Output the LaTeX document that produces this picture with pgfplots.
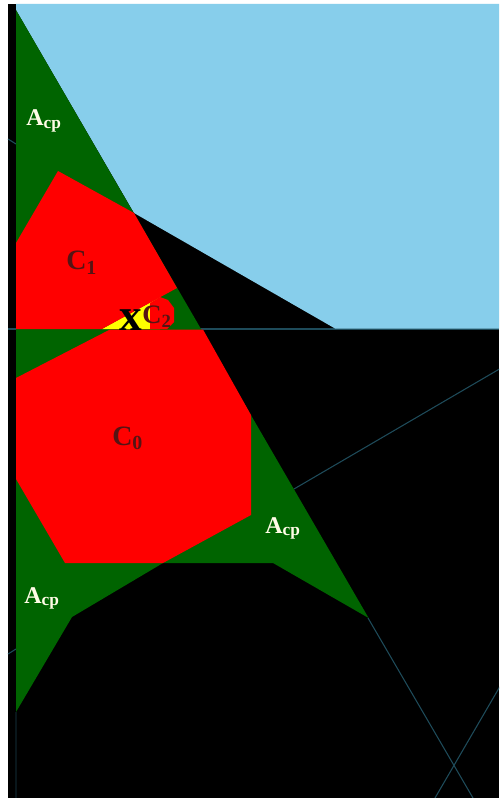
\documentclass[border=0pt]{standalone}
\usepackage{pgfplots}
\pgfplotsset{compat=1.18}
\usepackage{fontspec}
\setmainfont{Liberation Serif}
\definecolor{sky}{RGB}{135,206,235}
\definecolor{dgreen}{RGB}{0,100,0}
\definecolor{rred}{RGB}{255,0,0}
\definecolor{yel}{RGB}{255,255,0}
\definecolor{lnc}{RGB}{30,75,90}
\definecolor{clab}{RGB}{85,20,20}
\definecolor{cream}{RGB}{255,252,230}
\begin{document}
\begin{tikzpicture}
\begin{axis}[width=374.25pt, height=598.5pt, scale only axis,
  xmin=0, xmax=499, ymin=0, ymax=798, y dir=reverse,
  axis lines=none, ticks=none, clip=true]
% background
\addplot[fill=white, draw=none] coordinates {(0,0) (499,0) (499,798) (0,798)} --cycle;
\addplot[fill=black, draw=none] coordinates {(8,4) (499,4) (499,798) (8,798)} --cycle;
% thin lines
\addplot[draw=lnc, line width=0.8pt] coordinates {(8,329) (499,329)};
\addplot[draw=lnc, line width=0.8pt] coordinates {(294,489) (520,357)};
\addplot[draw=lnc, line width=0.8pt] coordinates {(368,618) (480,810)};
\addplot[draw=lnc, line width=0.8pt] coordinates {(520,652) (428,810)};
\addplot[draw=lnc, line width=0.8pt] coordinates {(8,139) (16,144)};
\addplot[draw=lnc, line width=0.8pt] coordinates {(8,654) (16,649)};
\addplot[draw=black!70!lnc, line width=0.8pt] coordinates {(16,712) (16,798)};
% sky region
\addplot[fill=sky, draw=none] coordinates {(16,4) (499,4) (499,328.5) (335,328.5) (134,213) (16,10)} --cycle;
% green region
\addplot[fill=dgreen, draw=none] coordinates {(16,10) (368.6,618) (273,563) (163,563) (72,617) (16,712)} --cycle;
% yellow region (C2)
\addplot[fill=yel, draw=none] coordinates {(102,329) (160,329) (160,297)} --cycle;
\addplot[fill=rred, draw=none] coordinates {(150,303) (160,297) (168,300) (174,308) (174,322) (167,329) (150,329)} --cycle;
% C1
\addplot[fill=rred, draw=none] coordinates {(58,171) (134,213) (177,288) (102,329) (16,329) (16,243)} --cycle;
% C0
\addplot[fill=rred, draw=none] coordinates {(16,378) (110,329.5) (203,329.5) (251,415) (251,515) (163,563) (65,563) (16,479)} --cycle;
% labels
\node[anchor=base west, text=cream, inner sep=0pt] at (axis cs:26,126) {\bfseries\fontsize{18}{18}\selectfont A\raisebox{-2pt}{\fontsize{13}{13}\selectfont cp}};
\node[anchor=base west, text=cream, inner sep=0pt] at (axis cs:265,533) {\bfseries\fontsize{18}{18}\selectfont A\raisebox{-2pt}{\fontsize{13}{13}\selectfont cp}};
\node[anchor=base west, text=cream, inner sep=0pt] at (axis cs:24,603) {\bfseries\fontsize{18}{18}\selectfont A\raisebox{-2pt}{\fontsize{13}{13}\selectfont cp}};
\node[anchor=base west, text=clab, inner sep=0pt] at (axis cs:66,270) {\bfseries\fontsize{21}{21}\selectfont C\raisebox{-3pt}{\fontsize{15}{15}\selectfont 1}};
\node[anchor=base west, text=clab, inner sep=0pt] at (axis cs:112,445) {\bfseries\fontsize{21}{21}\selectfont C\raisebox{-3pt}{\fontsize{15}{15}\selectfont 0}};
\node[anchor=base west, text=black, inner sep=0pt] at (axis cs:119,330) {\bfseries\fontsize{34}{34}\selectfont x};
\node[anchor=base west, text=clab, inner sep=0pt] at (axis cs:142,323) {\bfseries\fontsize{20}{20}\selectfont C\raisebox{-3pt}{\fontsize{14}{14}\selectfont 2}};
\end{axis}
\pgfresetboundingbox
\path (current axis.south west) rectangle (current axis.north east);
\end{tikzpicture}
\end{document}
